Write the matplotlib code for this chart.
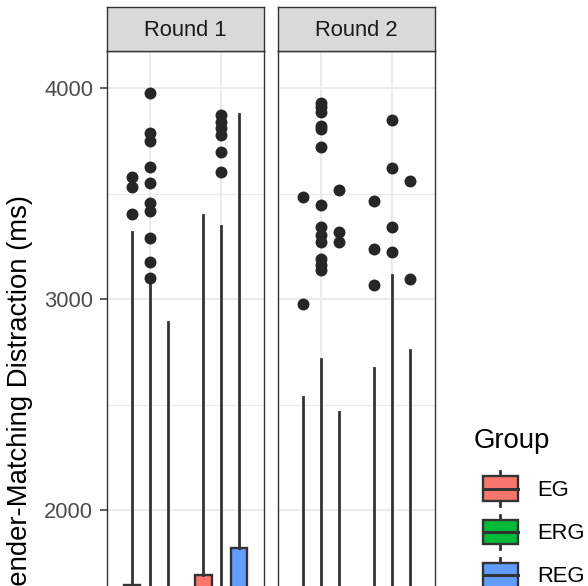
import matplotlib
matplotlib.use('Agg')
import matplotlib.pyplot as plt
from matplotlib.patches import Patch, Rectangle
from matplotlib.lines import Line2D
from matplotlib.legend_handler import HandlerBase

plt.rcParams['font.family'] = ['Liberation Sans', 'DejaVu Sans']

# data (lower parts of the boxes are cropped out)
rounds = ['Round 1', 'Round 2']
groups = ['EG', 'ERG', 'REG']
group_colors = ['#F8766D', '#00BA38', '#619CFF']
conditions = [1, 2]

# per round -> per condition -> per group
whis_hi = [[[3318, 3085, 2891], [3398, 3346, 3877]],
           [[2536, 2716, 2464], [2673, 3114, 2758]]]
q3 = [[[1645, 1560, 1500], [1692, 1590, 1820]],
      [[1450, 1520, 1400], [1480, 1550, 1430]]]
med = [[[1300, 1250, 1200], [1350, 1280, 1400]],
       [[1150, 1200, 1100], [1180, 1230, 1150]]]
q1 = [[[1050, 1000, 980], [1080, 1020, 1100]],
      [[950, 980, 900], [960, 990, 930]]]
whis_lo = [[[600, 620, 650], [640, 600, 700]],
           [[580, 600, 620], [600, 610, 590]]]
outliers = [
    [[[3578, 3531, 3403],
      [3976, 3787, 3749, 3626, 3550, 3455, 3417, 3289, 3175, 3100],
      []],
     [[],
      [3872, 3839, 3810, 3777, 3697, 3602],
      []]],
    [[[3483, 2976],
      [3929, 3910, 3886, 3822, 3806, 3720, 3445, 3341, 3303, 3270, 3190, 3161, 3137],
      [3517, 3318, 3270]],
     [[3464, 3237, 3066],
      [3848, 3621, 3341, 3223],
      [3559, 3095]]],
]

LINE = '#333333'
GRID = '#EBEBEB'
dodge = [-0.25, 0.0, 0.25]

fig = plt.figure(figsize=(5.88, 5.86), dpi=100)
W, H = 588, 586

def px_axes(x0, x1, y0, y1):
    return fig.add_axes([x0 / W, (H - y1) / H, (x1 - x0) / W, (y1 - y0) / H])

panel_x = [(107, 264), (278, 435)]
for r, (x0, x1) in enumerate(panel_x):
    ax = px_axes(x0, x1, 51, 751)
    for c, cond in enumerate(conditions):
        for g in range(len(groups)):
            st = dict(whislo=whis_lo[r][c][g], q1=q1[r][c][g], med=med[r][c][g],
                      q3=q3[r][c][g], whishi=whis_hi[r][c][g],
                      fliers=outliers[r][c][g])
            ax.bxp([st], positions=[cond + dodge[g]], widths=0.23,
                   patch_artist=True, showcaps=False,
                   boxprops=dict(facecolor=group_colors[g], edgecolor=LINE, linewidth=1.7),
                   medianprops=dict(color=LINE, linewidth=2.2),
                   whiskerprops=dict(color=LINE, linewidth=2.0),
                   flierprops=dict(marker='o', markersize=8.6, markerfacecolor='#262626',
                                   markeredgecolor='none'))
    ax.set_xlim(0.4, 2.6)
    ax.set_ylim(857.8, 4175.4)
    ax.set_yticks([1000, 2000, 3000, 4000])
    ax.set_yticks([1500, 2500, 3500], minor=True)
    ax.set_xticks(conditions)
    ax.set_xticklabels([])
    ax.grid(True, which='major', color=GRID, linewidth=1.5)
    ax.grid(True, which='minor', axis='y', color=GRID, linewidth=0.9)
    ax.set_axisbelow(True)
    ax.tick_params(axis='x', length=0)
    ax.tick_params(axis='y', which='minor', length=0)
    for s in ax.spines.values():
        s.set_color(LINE)
        s.set_linewidth(1.0)
    if r == 0:
        ax.tick_params(axis='y', which='major', length=5, width=1.1, color=LINE,
                       pad=5, labelsize=15.8, labelcolor='#4D4D4D')
        ax.set_ylabel('Gender-Matching Distraction (ms)', fontsize=19.8, labelpad=8)
    else:
        ax.tick_params(axis='y', which='major', length=0, labelleft=False)

    # facet strip
    sax = px_axes(x0, x1, 7, 51)
    sax.set_facecolor('#D9D9D9')
    sax.set_xticks([])
    sax.set_yticks([])
    for s in sax.spines.values():
        s.set_color(LINE)
        s.set_linewidth(1.0)
    sax.text(0.5, 0.47, rounds[r], ha='center', va='center', fontsize=15.8,
             color='#1A1A1A', transform=sax.transAxes)


class BoxKey(HandlerBase):
    def create_artists(self, legend, orig_handle, xdescent, ydescent, width, height,
                       fontsize, trans):
        cx = -xdescent + width / 2
        cy = -ydescent + height / 2
        hw = width * 0.375
        whisk = Line2D([cx, cx], [cy - 0.557 * height, cy + 0.557 * height],
                       color=LINE, linewidth=2.0, transform=trans)
        box = Rectangle((cx - hw, cy - 0.398 * height), 2 * hw, 0.796 * height,
                        facecolor=orig_handle.get_facecolor(), edgecolor=LINE,
                        linewidth=1.7, transform=trans)
        mid = Line2D([cx - hw, cx + hw], [cy, cy], color=LINE, linewidth=2.2,
                     transform=trans)
        return [whisk, box, mid]


handles = [Patch(facecolor=c) for c in group_colors]
fig.legend(handles, groups, handler_map={Patch: BoxKey()},
           loc='upper left', bbox_to_anchor=(477.2 / W, 1 - 473 / H),
           frameon=False, fontsize=15.8,
           handlelength=2.12, handleheight=1.818, labelspacing=0.55,
           handletextpad=0.6, borderpad=0, borderaxespad=0)
fig.text(474 / W, 1 - 448 / H, 'Group', fontsize=19.8, ha='left', va='baseline')

fig.savefig('out.png', dpi=100)
